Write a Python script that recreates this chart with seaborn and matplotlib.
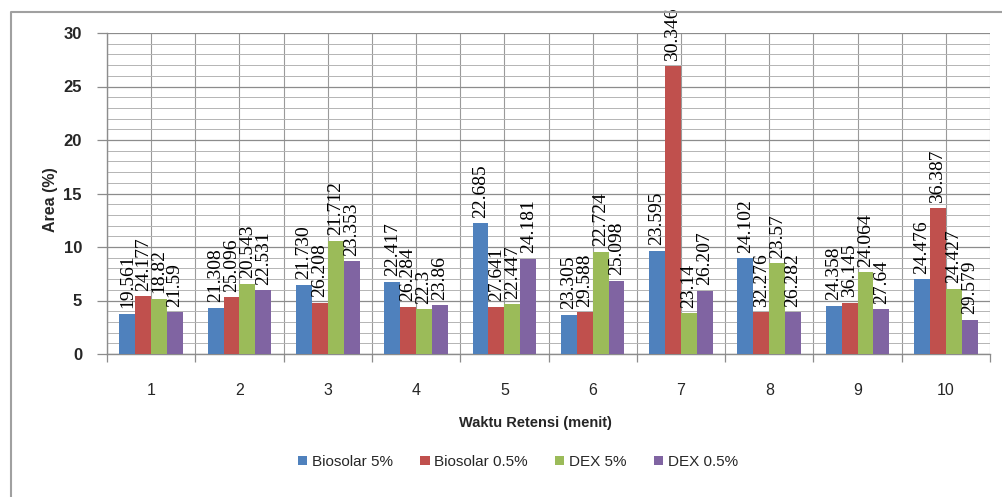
import matplotlib
matplotlib.use("Agg")
import matplotlib.pyplot as plt
from matplotlib.ticker import MultipleLocator, FixedLocator
from matplotlib.lines import Line2D
import seaborn as sns
import pandas as pd

# Peak number on the x axis
peaks = ["1", "2", "3", "4", "5", "6", "7", "8", "9", "10"]
series = ["Biosolar 5%", "Biosolar 0.5%", "DEX 5%", "DEX 0.5%"]

# Peak area (%) per sample
area_biosolar_5 = [3.77, 4.30, 6.45, 6.76, 12.2, 3.64, 9.66, 8.94, 4.52, 7.00]
area_biosolar_05 = [5.39, 5.30, 4.77, 4.42, 4.42, 3.89, 26.9, 3.89, 4.77, 13.6]
area_dex_5 = [5.14, 6.57, 10.6, 4.17, 4.64, 9.53, 3.80, 8.47, 7.63, 6.10]
area_dex_05 = [3.89, 5.95, 8.66, 4.55, 8.91, 6.85, 5.92, 3.89, 4.20, 3.20]

# Retention time (minutes) written above each bar
rt_biosolar_5 = ["19.561", "21.308", "21.730", "22.417", "22.685", "23.305", "23.595", "24.102", "24.358", "24.476"]
rt_biosolar_05 = ["24.177", "25.096", "26.208", "26.284", "27.641", "29.588", "30.346", "32.276", "36.145", "36.387"]
rt_dex_5 = ["18.82", "20.543", "21.712", "22.3", "22.447", "22.724", "23.14", "23.57", "24.064", "24.427"]
rt_dex_05 = ["21.59", "22.531", "23.353", "23.86", "24.181", "25.098", "26.207", "26.282", "27.64", "29.579"]

areas = [area_biosolar_5, area_biosolar_05, area_dex_5, area_dex_05]
rts = [rt_biosolar_5, rt_biosolar_05, rt_dex_5, rt_dex_05]
colors = ["#4F81BD", "#C0504D", "#9BBB59", "#8064A2"]

rows = []
for name, vals in zip(series, areas):
    for p, v in zip(peaks, vals):
        rows.append({"Peak": p, "Sample": name, "Area": v})
df = pd.DataFrame(rows)

sns.set_theme(style="white")
sans = ["Liberation Sans", "DejaVu Sans"]
serif = ["Liberation Serif", "DejaVu Serif"]
plt.rcParams["font.family"] = sans

fig = plt.figure(figsize=(10.02, 4.97), dpi=100)
ax = fig.add_axes([107 / 1002, 1 - 354 / 497, (990 - 107) / 1002, (354 - 33) / 497])

sns.barplot(data=df, x="Peak", y="Area", hue="Sample", order=peaks,
            hue_order=series, palette=colors, width=0.72, saturation=1,
            edgecolor="none", linewidth=0, ax=ax, legend=True, zorder=3)

for cont, labels in zip(ax.containers, rts):
    ax.bar_label(cont, labels=labels, rotation=90, padding=4,
                 fontsize=14, fontfamily=serif, color="black")

ax.set_xlim(-0.5, len(peaks) - 0.5)
ax.set_ylim(0, 30)
ax.yaxis.set_major_locator(MultipleLocator(5))
ax.yaxis.set_minor_locator(MultipleLocator(1))
ax.xaxis.set_minor_locator(FixedLocator([i - 0.5 for i in range(len(peaks) + 1)]))

ax.grid(True, which="major", axis="y", color="#8c8c8c", linewidth=0.9, zorder=0)
ax.grid(True, which="minor", axis="y", color="#b4b4b4", linewidth=0.7, zorder=0)
ax.grid(True, which="both", axis="x", color="#9a9a9a", linewidth=0.8, zorder=0)
ax.set_axisbelow(True)

for side in ["top", "right"]:
    ax.spines[side].set_visible(False)
for side in ["left", "bottom"]:
    ax.spines[side].set_color("#8c8c8c")
    ax.spines[side].set_linewidth(1.0)

ax.tick_params(axis="y", which="major", length=7, width=0.9, color="#8c8c8c",
               direction="out", pad=11, labelsize=12, left=True)
ax.tick_params(axis="y", which="minor", length=0)
ax.tick_params(axis="x", which="major", length=0, pad=21, labelsize=11.5)
ax.tick_params(axis="x", which="minor", length=6, width=0.9, color="#8c8c8c",
               direction="out", bottom=True)
for lab in ax.get_yticklabels():
    lab.set_fontweight("bold")

ax.set_xlabel("")
ax.set_ylabel("Area (%)", fontsize=11.5, fontweight="bold")
ax.yaxis.set_label_coords(-0.055, 0.48)

fig.text(535 / 1002, 1 - 423 / 497, "Waktu Retensi (menit)", ha="center",
         va="center", fontsize=10.5, fontweight="bold")

handles, labs = ax.get_legend_handles_labels()
ax.legend_.remove()
fig.legend(handles, labs, loc="center", bbox_to_anchor=(518 / 1002, 1 - 462 / 497),
           ncol=4, frameon=False, fontsize=11, handlelength=0.6, handleheight=0.6,
           handletextpad=0.3, columnspacing=1.8)

# frame of the chart area (left and top edges)
fig.add_artist(Line2D([11 / 1002, 11 / 1002, 1.0], [0, 1 - 12 / 497, 1 - 12 / 497],
                      transform=fig.transFigure, color="#a0a0a0", linewidth=1.5))

fig.savefig("out.png", dpi=100, facecolor="white")
